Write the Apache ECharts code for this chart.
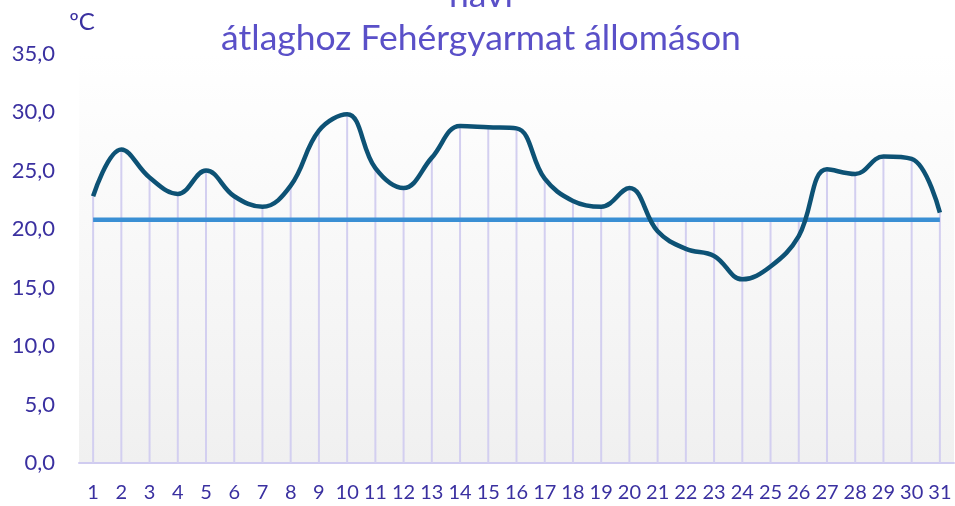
<!DOCTYPE html>
<html>
<head>
<meta charset="utf-8">
<script src="https://cdn.jsdelivr.net/npm/echarts@6/dist/echarts.min.js"></script>
<style>
  html, body { margin: 0; padding: 0; background: #fff; }
  #container { width: 955px; height: 506px; }
</style>
</head>
<body>
<div id="container"></div>
<script>
// adatok
var days = ['1','2','3','4','5','6','7','8','9','10','11','12','13','14','15','16',
            '17','18','19','20','21','22','23','24','25','26','27','28','29','30','31'];
var dailyTemp = [22.8, 26.8, 24.4, 23.0, 25.0, 22.8, 21.9, 23.7, 28.4, 29.8, 25.2, 23.5, 26.1, 28.8, 28.7, 28.6,
                 24.3, 22.4, 21.9, 23.5, 19.8, 18.3, 17.7, 15.7, 16.8, 19.4, 25.1, 24.7, 26.2, 26.0, 21.4];
var monthAvg = [20.8, 20.8, 20.8, 20.8, 20.8, 20.8, 20.8, 20.8, 20.8, 20.8, 20.8, 20.8, 20.8, 20.8, 20.8, 20.8,
                20.8, 20.8, 20.8, 20.8, 20.8, 20.8, 20.8, 20.8, 20.8, 20.8, 20.8, 20.8, 20.8, 20.8, 20.8];
var titleLines = ['havi', 'átlaghoz Fehérgyarmat állomáson'];
var unitLabel = 'ºC';

// függőleges vonalak a pontoktól a tengelyig (a magasabb értékig)
var dropLines = dailyTemp.map(function (v, i) { return Math.max(v, monthAvg[i]); });

var dom = document.getElementById('container');
var myChart = echarts.init(dom, null, { renderer: 'canvas' });

var font = 'Lato, "Open Sans", sans-serif';
var titleStyle = { fill: '#5a50c8', fontFamily: font, fontSize: 35.5, textAlign: 'center', textVerticalAlign: 'middle' };

var option = {
   animation: false,
   graphic: [
      { type: 'text', x: 481, y: -4, style: Object.assign({ text: titleLines[0] }, titleStyle) },
      { type: 'text', x: 481, y: 39, style: Object.assign({ text: titleLines[1] }, titleStyle) },
      {
         type: 'text', x: 82, y: 22,
         style: { text: unitLabel, fill: '#3a30a0', fontFamily: 'Lato, sans-serif', fontSize: 24, textAlign: 'center', textVerticalAlign: 'middle' }
      }
   ],
   grid: {
      left: 79,
      right: 1,
      top: 53.5,
      bottom: 43,
      show: true,
      borderWidth: 0,
      backgroundColor: {
         type: 'linear', x: 0, y: 0, x2: 0, y2: 1,
         colorStops: [
            { offset: 0, color: '#ffffff' },
            { offset: 1, color: '#f0f0f0' }
         ]
      }
   },
   xAxis: {
      type: 'category',
      data: days,
      axisTick: { show: false },
      axisLine: { lineStyle: { color: '#d0ccf0', width: 2 } },
      axisLabel: {
         color: '#3a30a0',
         fontFamily: font,
         fontSize: 20,
         margin: 20,
         interval: 0
      },
      splitLine: { show: false }
   },
   yAxis: {
      type: 'value',
      min: 0,
      max: 35,
      interval: 5,
      axisLine: { show: false },
      axisTick: { show: false },
      splitLine: { show: false },
      axisLabel: {
         color: '#3a30a0',
         fontFamily: font,
         fontSize: 22,
         margin: 24,
         formatter: function (v) { return v.toFixed(1).replace('.', ','); }
      }
   },
   series: [
      {
         name: 'drop',
         type: 'bar',
         data: dropLines,
         barWidth: 2,
         silent: true,
         itemStyle: { color: '#d3cff0' },
         z: 1
      },
      {
         name: 'átlag',
         type: 'line',
         data: monthAvg,
         showSymbol: false,
         symbol: 'none',
         lineStyle: { color: '#3a8fd4', width: 4.5 },
         z: 3
      },
      {
         name: 'napi',
         type: 'line',
         data: dailyTemp,
         smooth: 0.4,
         showSymbol: false,
         symbol: 'none',
         lineStyle: { color: '#0d5275', width: 4.5 },
         z: 4
      }
   ]
};

myChart.setOption(option);
window.addEventListener('resize', myChart.resize);
</script>
</body>
</html>
